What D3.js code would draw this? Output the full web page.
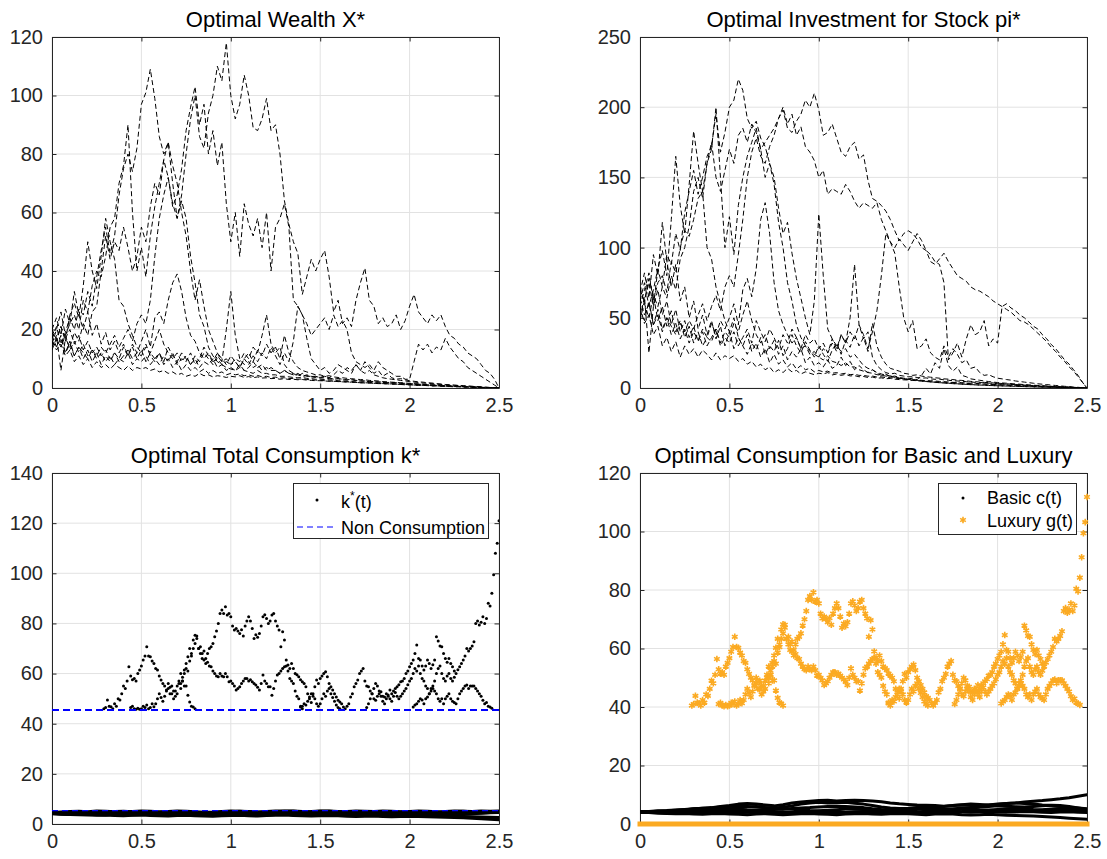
<!DOCTYPE html>
<html><head><meta charset="utf-8">
<script src="https://cdn.jsdelivr.net/npm/d3@7"></script>
<style>
body{margin:0;background:#fff}
svg{display:block}
</style>
</head><body>
<svg id="chart" width="1107" height="859"></svg>
<script>
// ---------------- DATA ----------------
const T_END = 2.5;
const xTicks = [0, 0.5, 1, 1.5, 2, 2.5];
const xTickLabels = ["0", "0.5", "1", "1.5", "2", "2.5"];
const wealthTicks = [0, 20, 40, 60, 80, 100, 120];
const investTicks = [0, 50, 100, 150, 200, 250];
const totalTicks = [0, 20, 40, 60, 80, 100, 120, 140];
const splitTicks = [0, 20, 40, 60, 80, 100, 120];
const titles = ["Optimal Wealth X*", "Optimal Investment for Stock pi*", "Optimal Total Consumption k*", "Optimal Consumption for Basic and Luxury"];

// Wealth paths X*(t), equally spaced on [0, 2.5]
const wealth1 = [17,21,15,19,24,20,27,25,33,28, 38,47,55,46,52,66,75,80,74,82, 97,101,109,99,86,80,84,76,70,60, 52,40,30,37,28,20,16,12,9,20, 33,18,10,8,9,7,8,6,7,6, 6,5,6,5,5,4,5,4,4,4, 3.5,4,3.5,3,3.2,3,2.8,3,2.6,2.5, 2.4,2.3,2.2,2.1,2,1.9,1.9,1.8,1.7,1.6, 1.5,1.4,1.3,1.2,1.1,1,0.9,0.9,0.8,0.7, 0.6,0.5,0.5,0.4,0.3,0.3,0.2,0.1,0.1,0.05,0];
const wealth2 = [16,14,18,12,15,11,14,12,10,13, 11,14,12,15,18,14,17,20,16,22, 25,22,30,45,58,66,72,63,58,66, 80,92,100,86,82,94,100,110,105,118, 100,92,97,107,100,89,88,92,99,88, 90,80,64,56,50,46,32,38,44,40, 44,47,38,26,30,22,24,21,30,36, 41,30,28,22,24,21,22,25,20,23, 28,32,26,24,22,25,23,25,21,18, 17,15,14,12,11,10,8,6,5,3,0];
const wealth3 = [19,16,21,17,14,19,16,22,18,26, 28,40,52,44,50,47,55,48,40,45, 55,50,62,70,66,78,72,62,66,75, 88,96,103,90,97,80,88,76,84,63, 50,60,45,63,56,52,58,48,60,40, 55,58,63,55,30,28,25,22,18,20, 22,24,20,25,21,23,20,12,9,8, 7,8,6,9,7,6,5,4,4,3, 3,9,15,13,15,12,14,13,17,14, 12,10,9,7,6,5,4,3,2,1,0];
const wealth4 = [15,20,26,18,22,25,20,30,26,35, 40,38,45,55,58,70,76,90,60,40, 48,38,52,62,70,78,84,70,58,64, 58,45,36,25,21,14,11,9,8,7, 6.5,6,7,6,5.5,5,6,5,5,4.5, 4.5,4,4,3.8,3.6,3.5,3.6,3.3,3.2,3, 3,2.9,2.8,2.6,2.5,2.4,2.3,2.2,2.1,2, 2,1.9,1.8,1.7,1.6,1.6,1.5,1.4,1.3,1.3, 1.2,1.1,1,1,0.9,0.8,0.8,0.7,0.6,0.6, 0.5,0.5,0.4,0.4,0.3,0.3,0.2,0.2,0.1,0.05,0];
const wealth5 = [18,14,17,12,16,11,14,10,13,9, 12,8,11,9,12,10,14,11,15,12, 16,20,14,24,26,22,30,36,39,33, 24,18,16,12,10,12,9,10,8,9, 8,10,9,12,10,14,12,18,25,15, 12,14,8,6,5,4.5,4,4.2,3.8,3.6, 3.4,3.5,3.2,3,3.2,2.8,2.7,2.8,2.5,2.4, 2.3,2.2,2.1,2,1.9,1.8,1.8,1.7,1.6,1.5, 1.4,1.3,1.2,1.2,1.1,1,0.9,0.9,0.8,0.7, 0.6,0.6,0.5,0.4,0.4,0.3,0.2,0.2,0.1,0.05,0];
const wealth6 = [20,17,14,18,13,16,12,15,11,13, 10,12,9,11,8,10,9,12,8,10, 9,11,8,10,12,9,14,11,9,12, 10,8,11,9,12,10,8,11,9,10, 8,9,7,10,8,11,9,12,10,14, 11,8,12,9,16,28,25,17,10,8, 6,7,5,6,8,7,6,5,8,6, 9,7,5,6,4,5,3.5,3,3.2,2.8, 2.5,2.3,2.1,2,1.8,1.7,1.5,1.4,1.2,1.1, 1,0.9,0.8,0.7,0.6,0.5,0.4,0.3,0.2,0.1,0];
const wealth7 = [14,18,6,17,20,15,18,13,16,12, 14,11,13,10,12,9,11,13,10,12, 11,14,12,16,20,15,12,10,12,9, 11,8,10,7,9,8,10,7,8,6, 7,6,8,6,7,9,7,8,6,7, 6,5,6,5,4.5,5,4,4.5,4,3.8, 3.6,4,3.5,4.5,6,5,7,6,8,6, 5,6,4.5,4,3.5,3.2,3,2.8,2.6,2.4, 2.2,2,1.9,1.7,1.6,1.5,1.3,1.2,1.1,1, 0.9,0.8,0.7,0.6,0.5,0.4,0.3,0.2,0.15,0.05,0];
const wealth8 = [16,13,15,11,13,9,11,8,10,7, 9,7,8,6.5,8,7,6,7.5,6,7, 6.5,7,6,6.5,5.5,6,5,5.5,4.5,5, 4,4.5,4,5,4.2,4.5,3.8,4.2,4,3.6, 4,3.8,4.2,3.6,3.9,3.5,3.8,3.4,3.5,3.2, 3.3,3,3.2,2.9,3,2.8,2.9,2.7,2.6,2.5, 2.5,2.4,2.3,2.3,2.2,2.1,2,2,1.9,1.8, 1.8,1.7,1.6,1.6,1.5,1.4,1.4,1.3,1.2,1.2, 1.1,1,1,0.9,0.9,0.8,0.7,0.7,0.6,0.6, 0.5,0.5,0.4,0.4,0.3,0.3,0.2,0.2,0.1,0.05,0];
const wealth9 = [20,24,18,27,22,33,25,20,26,18, 22,15,19,13,16,12,15,11,14,10, 13,9,12,10,8,11,9,12,8,10, 9,12,8,10,14,11,9,12,10,8, 11,9,7,10,12,9,13,11,15,12, 14,10,18,12,9,7,6,5.5,5,4.5, 4.5,4,4.2,3.8,3.6,3.5,3.3,3.2,3,2.9, 2.8,2.6,2.5,2.4,2.2,2.1,2,1.9,1.8,1.7, 1.6,1.5,1.4,1.3,1.2,1.1,1,0.9,0.8,0.7, 0.6,0.55,0.5,0.4,0.35,0.3,0.2,0.15,0.1,0.05,0];
const wealth10 = [13,17,21,16,25,29,24,35,50,40, 34,45,58,50,44,30,28,22,18,14, 12,15,11,9,12,8,10,7,9,6, 8,6,7,5.5,6.5,5,6,5,5.5,4.5, 5,4.5,4.8,4.2,4.5,4,4.3,3.8,4,3.6, 3.7,3.4,3.5,3.2,3.3,3,3.1,2.9,2.8,2.7, 2.6,2.5,2.4,2.3,2.2,2.2,2.1,2,1.9,1.8, 1.7,1.7,1.6,1.5,1.5,1.4,1.3,1.3,1.2,1.1, 1.1,1,0.9,0.9,0.8,0.7,0.7,0.6,0.5,0.5, 0.4,0.4,0.3,0.3,0.25,0.2,0.15,0.1,0.08,0.04,0];

// Investment paths pi*(t)
const invest1 = [62,75,58,70,85,72,95,88,110,98, 125,140,155,138,150,165,172,195,168,182, 200,205,220,212,192,185,190,178,172,160, 150,128,110,118,96,78,64,50,38,62, 124,80,42,35,30,26,28,22,24,20, 16,14,13,11,10,9,8.5,8,7,6.5, 6,5.5,5.2,5,4.6,4.3,4,3.8,3.5,3.3, 3.1,2.9,2.7,2.5,2.4,2.2,2.1,2,1.8,1.7, 1.6,1.5,1.4,1.3,1.2,1.1,1,0.9,0.8,0.7, 0.6,0.55,0.5,0.4,0.35,0.3,0.25,0.2,0.1,0.05,0];
const invest2 = [55,48,62,45,52,40,50,44,38,46, 40,48,42,52,60,48,58,66,55,72, 80,72,95,120,150,168,178,165,160,172, 180,192,198,185,182,190,195,205,200,210, 198,180,182,188,178,168,165,172,175,163, 166,148,135,133,130,126,120,112,105,110, 112,110,106,100,98,90,88,92,96,90, 85,80,78,76,72,70,69,67,65,62, 60,58,56,54,51,48,47,45,42,39, 36,33,29,26,22,19,15,12,8,4,0];
const invest3 = [70,62,78,66,58,72,64,80,70,92, 100,115,140,150,135,160,175,150,140,155, 170,160,180,185,175,188,182,170,175,180, 185,192,200,188,195,180,186,172,168,162, 150,155,138,142,140,138,145,140,133,128, 132,130,128,132,120,112,104,100,106,102, 98,104,110,105,98,95,90,88,75,20, 25,32,22,35,45,38,40,48,30,35, 32,58,60,57,55,52,50,47,44,42, 38,35,31,28,24,20,17,13,9,4,0];
const invest4 = [58,70,82,62,75,80,68,90,82,100, 112,108,120,135,140,160,170,200,150,100, 122,95,130,150,165,175,185,170,150,160, 145,118,100,75,62,45,36,30,26,24, 22,20,23,19,18,16,18,15,15,13, 12,11,10.5,9.5,9,8.5,8.5,7.5,7,6.5, 6.2,5.8,5.4,5,4.7,4.4,4.1,3.8,3.6,3.4, 3.2,3,2.8,2.6,2.4,2.3,2.1,2,1.8,1.7, 1.6,1.5,1.4,1.3,1.2,1.1,1,0.9,0.8,0.7, 0.6,0.5,0.45,0.4,0.35,0.3,0.2,0.15,0.1,0.05,0];
const invest5 = [64,52,60,45,56,42,50,38,46,35, 42,32,40,34,42,36,46,38,48,42, 50,60,45,70,78,65,85,120,132,110, 75,55,45,38,32,36,28,30,24,26, 22,28,25,32,26,38,32,50,88,45, 35,40,22,16,13,11,10,10.5,9,8.5, 8,8,7.5,7,7.2,6.5,6.2,6.3,5.8,5.5, 5.2,5,4.8,4.5,4.3,4,3.9,3.7,3.5,3.3, 3.1,2.9,2.7,2.6,2.4,2.2,2,1.9,1.7,1.5, 1.4,1.3,1.1,1,0.9,0.7,0.6,0.5,0.3,0.1,0];
const invest6 = [72,60,50,66,48,58,44,55,40,48, 36,44,32,40,30,36,33,42,30,36, 32,40,30,36,42,32,48,40,33,42, 36,28,38,32,42,36,28,38,32,35, 28,32,25,35,28,38,32,40,35,45, 38,28,40,55,80,110,104,96,72,50, 40,48,28,30,35,25,22,20,30,22, 28,24,18,20,14,15,11,9,9.5,8, 7,6.5,6,5.6,5,4.6,4.2,3.8,3.4,3, 2.7,2.4,2.1,1.8,1.5,1.2,1,0.7,0.5,0.2,0];
const invest7 = [50,65,25,58,70,52,62,45,56,40, 48,36,44,33,40,30,36,42,32,40, 36,46,40,52,62,48,38,32,38,28, 34,24,30,20,26,22,28,18,22,16, 18,15,20,14,16,22,16,19,13,16, 13,11,13,10.5,9,10,8,8.5,7.5,7, 6.5,7,6,9,14,10,18,14,28,16, 12,15,9,8,6.5,6,5.5,5,4.6,4.2, 3.9,3.6,3.4,3.1,2.9,2.7,2.4,2.2,2,1.8, 1.6,1.4,1.2,1.1,0.9,0.7,0.6,0.4,0.3,0.1,0];
const invest8 = [58,46,52,38,44,30,36,26,33,22, 30,24,28,22,27,24,20,25,20,23, 21,23,19,21,17,19,15,17,13,15, 11,13,11,14,11.5,12.5,10,11.5,10.5,9.5, 10.5,10,11,9.3,10,9,9.7,8.6,8.8,8, 8.2,7.5,7.8,7,7.2,6.6,6.8,6.3,6,5.8, 5.7,5.4,5.2,5.1,4.8,4.6,4.4,4.3,4.1,3.9, 3.8,3.6,3.4,3.3,3.1,2.9,2.9,2.7,2.5,2.4, 2.3,2.1,2,1.9,1.8,1.6,1.5,1.4,1.2,1.1, 1,0.9,0.8,0.7,0.6,0.5,0.4,0.3,0.2,0.1,0];
const invest9 = [68,82,64,95,80,118,90,72,88,62, 72,50,62,42,52,38,48,35,44,30, 40,28,36,30,24,32,27,36,24,30, 26,34,23,28,38,30,25,33,27,22, 30,24,19,27,32,24,34,29,38,30, 36,26,46,30,22,17,14,13,12,10.5, 10,9,9.4,8.5,8,7.7,7.3,7,6.5,6.3, 6,5.6,5.4,5.1,4.7,4.5,4.2,4,3.8,3.6, 3.4,3.2,3,2.8,2.5,2.3,2.1,1.9,1.7,1.5, 1.3,1.2,1.1,0.9,0.8,0.6,0.5,0.35,0.2,0.1,0];
const invest10 = [48,62,75,58,85,98,80,120,165,130, 110,145,183,160,140,100,92,72,60,48, 40,50,36,30,38,26,32,22,28,18, 24,17,20,15,18,13.5,16,13,14,11.5, 12.5,11.5,12,10.5,11,10,10.5,9.5,9.8,9, 9,8.4,8.5,7.8,8,7.3,7.4,7,6.7,6.4, 6.2,6,5.7,5.5,5.2,5.2,5,4.7,4.5,4.3, 4,4,3.8,3.5,3.5,3.3,3.1,3,2.8,2.6, 2.5,2.3,2.1,2,1.9,1.7,1.6,1.4,1.2,1.1, 0.9,0.85,0.7,0.6,0.5,0.4,0.3,0.2,0.15,0.08,0];

// Total consumption k*(t): high branches (above the non-consumption level), step 0.01
const kHighStep = 0.01;
const kHighStart = [0.29, 0.44, 0.72, 1.39, 1.76, 2.02];
const kHigh1 = [46,46.5,49.5,47,46.8,46,48,47,50,49.5,52,55,54,57,62.7,59,57.5,58,57,60,61.4,63,65.4,67,70.7,67,66.7,65,64,62,61.4,59,57.4,56,55,53.4,54,52,55,53,51,52,56,54,57,55,55,51.4,48.7,47,46.7,46];
const kHigh2 = [46.5,47,46,45.8,46.2,45.8,46,47,46.5,47.5, 46,46.5,48,46.8,48,50,52,50.5,49,51, 53,56,54.5,52,50,53,55,57,60,58.5, 61.4,64,66.7,70,68,73.4,75.3,74,70,70.7, 68,69,66,68,70,70.7,72,74.7,77,80, 84,85.4,84,86.7,83.4,84,82.7,79,77.4,78, 77,76,77.5,75,79,81,82.7,81,78,74, 75.5,74.5,76,79,82.7,83.5,82,80,81,83.4, 84,81,79,77.4,70.7,76.7,73.4,65.4,63.4,62, 64,62,60,59.5,58.7,57.5,56.7,56,54.7,52, 50.7,52,52,54.7,57.4,56,58,59,60,60.7, 58.7,56,54.7,53.4,52,50.7,49.4,48.7,48,46.7, 46,47,48,50.7,52,54.7,56,57.4,60,61, 62,57,55,54.7,53,52,50,49.4,51,52, 52.7,51,50.7,52,51,53.4,52,53,54,54.7, 55.5,56.7,57,58,60,61,62.7,64,65.4,68, 71.4,66,65.4,63,61.4,63,65.4,64,62,63.5, 65.4,74.7,73,71,70.7,68,66,64.5,66,64, 62.7,61,60,61.5,62.7,64,65.4,67,70,69, 70,71,72.7,80,81,79.4,80.5,82.7,80,82, 88,87,92,99.4,108,112,121];
const kHigh3 = [56,57,60,62,61,65,67,70,72,75, 70,68,66,65.4,64,64.5,63,62.7,61,60, 59,58.7,60,59,58.7,60,58.7,56.7,57,56, 55,53.4,54,54.7,56,57,58,58,57,57.5, 56.7,56,55.4,54.5,53.4,56,59.4,57,56,54.7, 54.7,51.4,54,57,59.4,60,61,62,62.7,63, 61,58,57,56,53,51,50,47,46];
const kHigh4 = [46.7,47,48,47.5,49,50,48.5,51,50,48,47,48,50,52,51,53,54,52,50.5,49,47.5,46.5,46];
const kHigh5 = [46.5,48,50,52,54,56,55,53,51,49, 48,50,51.5,50,49,51,52.5,51,50,51, 52,53,54,55.5,57,58,60,62,61,63, 60,58,57,55,54,52,54,55,57,60, 62,63,60,58,57,59,60,58,57,58.5];
const kHigh6 = [46.7,47.5,48,49,50,49.5,48,50,50.7,52, 53,54,53,52,50,49,50,48,50,51, 52,50,49,48.5,48,50,52,53,54,55, 55.4,54,55,55,55,54,53,52,51,49.4, 48,48.5,47,46.7,46.2];
// k*(t) low band (consuming below the lower level), equally spaced on [0, 2.5]
const kLow1 = [4.4,4.3,4.5,4.6,4.4,4.7,4.8,5,5.1,4.9,4.8,4.6,4.7,4.9,5,4.8,4.6,4.4,4.5,4.7,4.9,5.1,5,4.8,4.7,4.9,5.1,5.2,5,4.9,5.1,5.2,5,4.8,4.7,4.9,5,4.8,4.6,4.8,5,4.9,4.7,4.6,4.8,5,5.1,4.9,4.8,4.9,5];
const kLow2 = [4.3,4.1,4,4.2,4.1,3.9,4,4.2,4.3,4.1,4,3.8,3.9,4.1,4.2,4,3.8,3.7,3.9,4,4.1,3.9,3.8,3.7,3.9,4.1,4.3,4.2,4,3.9,4.1,4.2,4,3.8,3.7,3.6,3.8,3.9,3.7,3.6,3.5,3.7,3.8,3.6,3.5,3.7,3.9,4.1,4.3,4.5,4.6];
const kLow3 = [4.2,4,3.8,3.7,3.6,3.5,3.6,3.4,3.3,3.5,3.6,3.4,3.3,3.2,3.4,3.5,3.3,3.2,3.1,3.3,3.4,3.5,3.3,3.2,3.4,3.5,3.6,3.4,3.3,3.2,3.3,3.4,3.3,3.1,3,3.1,3.2,3,2.9,3,3.1,3,2.9,2.8,2.7,2.6,2.5,2.3,2.1,1.9,1.7];
const kLow4 = [4.5,4.6,4.4,4.3,4.5,4.4,4.2,4.3,4.5,4.6,4.4,4.3,4.2,4.4,4.5,4.3,4.2,4.1,4.3,4.4,4.5,4.4,4.2,4.3,4.5,4.6,4.5,4.3,4.2,4.4,4.5,4.6,4.4,4.3,4.1,4.2,4.3,4.1,4,4.2,4.3,4.1,4,4.1,4.2,4.3,4.4,4.5,4.4,4.6,4.8];
const kLow5 = [4.1,3.9,3.8,4,3.9,3.7,3.6,3.8,3.7,3.6,3.8,3.9,3.7,3.6,3.5,3.7,3.8,3.6,3.5,3.6,3.7,3.8,3.6,3.5,3.6,3.8,3.9,3.7,3.6,3.8,3.9,3.7,3.5,3.4,3.5,3.6,3.4,3.3,3.4,3.5,3.3,3.2,3.3,3.4,3.2,3.1,3,2.9,2.8,2.7,2.6];
const kLow6 = [4.6,4.8,5,5.1,4.9,5.2,5.1,4.9,4.8,5,5.2,5.1,4.9,5,5.2,5.1,4.9,4.7,4.8,5,5.2,5.1,4.9,4.8,5,5.2,5.2,5.1,4.9,5,5.2,5.1,4.9,5,5.2,5.1,5,5.2,5.1,4.9,5,5.2,5.1,4.9,5,5.2,5.1,5,5.2,5.1,5.2];
const nonConsumption = [45.5, 5.3];

// Basic consumption c(t), equally spaced on [0, 2.5]
const basic1 = [4.2,4.3,4.5,4.6,4.8,5,5.2,5.4,5.6,6,6.3,6.8,7,6.8,6.5,6.2,6.6,7.2,7.5,7.8,8,8.1,7.9,8,8.1,8,7.9,7.6,7.2,6.9,6.7,6.5,6.4,6.3,6.1,6.3,6.6,6.8,6.7,6.5,6.7,7,7.2,7.5,7.8,8,8.3,8.6,9,9.5,10];
const basic2 = [4.1,4.2,4.4,4.5,4.7,4.9,5.1,5.3,5.5,5.8,6,6.2,6,5.8,5.6,5.5,5.7,6.2,6.8,7.2,7.4,7.2,7.3,7.4,7.1,6.8,6.3,5.8,5.5,5.3,5.4,5.6,5.8,5.9,6,6.3,6.5,6.4,6.2,6.5,6.8,7,7.2,7,6.8,6.5,6.3,6,5.7,5.5,5.2];
const basic3 = [4,4.1,4.2,4.4,4.6,4.8,5.1,5.4,5.2,5,5.2,5.5,5.8,6,5.6,5.2,5,5.3,5.5,5.6,5.8,6,6.1,6,5.8,5.6,5.2,5,4.9,5,5.2,5.4,5.3,5.1,5,5.2,5.4,5.6,5.8,6,6.2,6.1,5.9,5.8,6,6.2,6.4,6.3,6,5.5,5];
const basic4 = [4.2,4.1,4,4.1,4.3,4.5,4.4,4.6,4.8,4.7,4.9,5,4.8,4.7,4.9,5.1,5.3,5,4.8,4.6,4.5,4.7,4.9,5.1,5.2,5,4.8,4.7,4.6,4.8,5,5.1,4.9,4.7,4.6,4.8,5,5.1,4.9,4.8,5,5.2,5.3,5.2,5,4.9,5.1,5.3,5.2,5,4.8];
const basic5 = [4.1,4,3.9,3.8,4,4.1,3.9,3.8,4,4.2,4.3,4.1,4,4.2,4.4,4.3,4.1,4,4.1,4.3,4.4,4.2,4.1,4,4.2,4.3,4.1,4,4.2,4.4,4.5,4.3,4.2,4.4,4.5,4.3,4.1,4,4.2,4.3,4.1,4,4.1,4.3,4.2,4,3.9,4.1,4.2,4,3.9];
const basic6 = [4,3.9,3.7,3.6,3.5,3.6,3.4,3.3,3.5,3.6,3.4,3.3,3.2,3.4,3.5,3.3,3.2,3.3,3.5,3.6,3.4,3.3,3.2,3.4,3.5,3.6,3.4,3.3,3.5,3.6,3.5,3.3,3.2,3.4,3.5,3.4,3.2,3.1,3.2,3.3,3.2,3,2.9,2.8,2.7,2.6,2.4,2.2,2,1.8,1.6];
const basic7 = [4.2,4.3,4.1,4.2,4.4,4.6,4.5,4.3,4.2,4.1,4,3.9,4.1,4.3,4.2,4,3.9,3.8,3.9,4.1,4,3.8,3.7,3.8,4,4.1,3.9,3.8,3.9,4.1,4.2,4,3.9,3.8,4,4.2,4.3,4.5,4.6,4.4,4.5,4.7,4.8,4.6,4.5,4.7,4.9,5,4.8,4.7,4.6];

// Luxury consumption g(t): high branches (same start times, step 0.01) and the zero level
const luxHigh1 = [40.5,41,43.8,41.5,41.3,40.5,42.4,41.5,44.3,43.8,46.2,49,48.1,51,56.4,52.9,51.4,51.9,51,53.8,55.1,56.7,58.9,60.5,64,60.5,60.2,58.6,57.6,55.7,55.1,52.9,51.3,50,49.1,47.5,48.1,46.2,49,47.2,45.3,46.2,50,48.1,51,49.1,49.1,45.6,43.1,41.5,41.2,40.5];
const luxHigh2 = [41,41.4,40.5,40.3,40.7,40.3,40.5,41.4,41,41.9, 40.5,41,42.4,41.3,42.4,44.3,46.2,44.8,43.4,45.3, 47.2,50,48.6,46.2,44.3,47.2,49,51,53.8,52.4, 55.1,57.6,60.2,63.3,61.4,66.5,68.3,67.1,63.3,64, 61.4,62.4,59.5,61.4,63.3,64,65.2,67.8,70,72.8, 76.6,77.9,76.6,79.2,76,76.6,75.4,71.9,70.3,70.9, 70,69,70.4,68.1,71.9,73.8,75.4,73.8,70.9,67.1, 68.5,67.6,69,71.9,75.4,76.1,74.7,72.8,73.8,76, 76.6,73.8,71.9,70.3,64,69.7,66.5,59,57,55.7, 57.6,55.7,53.8,53.3,52.6,51.4,50.7,50,48.8,46.2, 45,46.2,46.2,48.8,51.3,50,51.9,52.9,53.8,54.5, 52.6,50,48.8,47.5,46.2,45,43.7,43.1,42.4,41.2, 40.5,41.4,42.4,45,46.2,48.8,50,51.3,53.8,54.8, 55.7,51,49.1,48.8,47.2,46.2,44.3,43.7,45.3,46.2, 46.9,45.3,45,46.2,45.3,47.5,46.2,47.2,48.1,48.8, 49.5,50.7,51,51.9,53.8,54.8,56.4,57.6,58.9,61.4, 64.6,59.5,58.9,56.7,55.1,56.7,58.9,57.6,55.7,57.1, 58.9,67.8,66.2,64.3,64,61.4,59.5,58.1,59.5,57.6, 56.4,54.8,53.8,55.2,56.4,57.6,58.9,60.5,63.3,62.4, 63.3,64.3,65.9,72.8,73.8,72.2,73.3,75.4,72.8,74.7, 80.4,79.5,84.2,91.2,99.4,103.2,111.8];
const luxHigh3 = [50,51,53.8,55.7,54.8,58.6,60.5,63.3,65.2,68.1, 63.3,61.4,59.5,58.9,57.6,58.1,56.7,56.4,54.8,53.8, 52.9,52.6,53.8,52.9,52.6,53.8,52.6,50.7,51,50, 49.1,47.5,48.1,48.8,50,51,51.9,51.9,51,51.4, 50.7,50,49.4,48.6,47.5,50,53.2,51,50,48.8, 48.8,45.6,48.1,51,53.2,53.8,54.8,55.7,56.4,56.7, 54.8,51.9,51,50,47.2,45.3,44.3,41.5,40.5];
const luxHigh4 = [41.2,41.5,42.4,41.9,43.4,44.3,42.9,45.3,44.3,42.4,41.5,42.4,44.3,46.2,45.3,47.2,48.1,46.2,44.8,43.4,41.9,41,40.5];
const luxHigh5 = [41,42.4,44.3,46.2,48.1,50,49.1,47.2,45.3,43.4, 42.4,44.3,45.7,44.3,43.4,45.3,46.7,45.3,44.3,45.3, 46.2,47.2,48.1,49.5,51,51.9,53.8,55.7,54.8,56.7, 53.8,51.9,51,49.1,48.1,46.2,48.1,49.1,51,53.8, 55.7,56.7,53.8,51.9,51,52.9,53.8,51.9,51,52.4];
const luxHigh6 = [41.2,41.9,42.4,43.4,44.3,43.8,42.4,44.3,45,46.2, 47.2,48.1,47.2,46.2,44.3,43.4,44.3,42.4,44.3,45.3, 46.2,44.3,43.4,42.9,42.4,44.3,46.2,47.2,48.1,49.1, 49.4,48.1,49.1,49.1,49.1,48.1,47.2,46.2,45.3,43.7, 42.4,42.9,41.5,41.2,40.7];
const luxZeroTimes = [0, 2.5];
const luxZeroValues = [0, 0];

const legendTotal = ["k*(t)", "Non Consumption"];
const legendSplit = ["Basic c(t)", "Luxury g(t)"];

// ---------------- DRAWING ----------------
const FONT = '"Liberation Sans", Arial, Helvetica, sans-serif';
const AX = "#262626";
const ORANGE = "#FBAA22";
const svg = d3.select("#chart");
const defs = svg.append("defs");

const panelBoxes = [
  {left: 52, right: 499, top: 37, bottom: 388, yMax: 120, ticks: wealthTicks},
  {left: 640, right: 1087, top: 37, bottom: 388, yMax: 250, ticks: investTicks},
  {left: 52, right: 499, top: 473, bottom: 824, yMax: 140, ticks: totalTicks},
  {left: 640, right: 1087, top: 473, bottom: 824, yMax: 120, ticks: splitTicks}
];

function panel(idx) {
  const p = panelBoxes[idx];
  const x = d3.scaleLinear().domain([0, T_END]).range([p.left, p.right]);
  const y = d3.scaleLinear().domain([0, p.yMax]).range([p.bottom, p.top]);
  const g = svg.append("g");
  g.append("g").selectAll("line").data(xTicks).join("line")
    .attr("x1", d => x(d)).attr("x2", d => x(d)).attr("y1", p.top).attr("y2", p.bottom)
    .attr("stroke", "#e2e2e2").attr("stroke-width", 1);
  g.append("g").selectAll("line").data(p.ticks).join("line")
    .attr("y1", d => y(d)).attr("y2", d => y(d)).attr("x1", p.left).attr("x2", p.right)
    .attr("stroke", "#e2e2e2").attr("stroke-width", 1);
  const style = s => s.attr("font-size", 20).attr("font-family", FONT).attr("color", AX)
    .call(t => t.selectAll("text").attr("fill", AX));
  g.append("g").attr("transform", `translate(0,${p.bottom})`)
    .call(d3.axisBottom(x).tickValues(xTicks).tickFormat((d, i) => xTickLabels[i]).tickSizeInner(-4.5).tickSizeOuter(0).tickPadding(10)).call(style);
  g.append("g").attr("transform", `translate(0,${p.top})`)
    .call(d3.axisTop(x).tickValues(xTicks).tickFormat("").tickSizeInner(-4.5).tickSizeOuter(0)).call(style);
  g.append("g").attr("transform", `translate(${p.left},0)`)
    .call(d3.axisLeft(y).tickValues(p.ticks).tickFormat(d3.format("d")).tickSizeInner(-4.5).tickSizeOuter(0).tickPadding(9)).call(style);
  g.append("g").attr("transform", `translate(${p.right},0)`)
    .call(d3.axisRight(y).tickValues(p.ticks).tickFormat("").tickSizeInner(-4.5).tickSizeOuter(0)).call(style);
  svg.append("text").attr("x", (p.left + p.right) / 2).attr("y", p.top - 10)
    .attr("text-anchor", "middle").attr("font-family", FONT).attr("font-size", 22).attr("fill", "#000")
    .text(titles[idx]);
  const clipId = "clip" + idx;
  defs.append("clipPath").attr("id", clipId).append("rect")
    .attr("x", p.left).attr("y", p.top).attr("width", p.right - p.left).attr("height", p.bottom - p.top);
  const data = svg.append("g").attr("clip-path", `url(#${clipId})`);
  return {x, y, g, data, p};
}

function evenLine(x, y, arr) {
  const ts = d3.scaleLinear().domain([0, arr.length - 1]).range([0, T_END]);
  return d3.line().x((d, i) => x(ts(i))).y(d => y(d))(arr);
}

// Panel 1: wealth
{
  const {x, y, data} = panel(0);
  data.selectAll("path").data([wealth1, wealth2, wealth3, wealth4, wealth5, wealth6, wealth7, wealth8, wealth9, wealth10]).join("path")
    .attr("d", d => evenLine(x, y, d)).attr("fill", "none").attr("stroke", "#000")
    .attr("stroke-width", 1).attr("stroke-dasharray", "5,3");
}
// Panel 2: investment
{
  const {x, y, data} = panel(1);
  data.selectAll("path").data([invest1, invest2, invest3, invest4, invest5, invest6, invest7, invest8, invest9, invest10]).join("path")
    .attr("d", d => evenLine(x, y, d)).attr("fill", "none").attr("stroke", "#000")
    .attr("stroke-width", 1).attr("stroke-dasharray", "5,3");
}
// Panel 3: total consumption
{
  const {x, y, data, p} = panel(2);
  data.selectAll("path.low").data([kLow1, kLow2, kLow3, kLow4, kLow5, kLow6]).join("path").attr("class", "low")
    .attr("d", d => evenLine(x, y, d)).attr("fill", "none").attr("stroke", "#000")
    .attr("stroke-width", 3).attr("stroke-linejoin", "round").attr("stroke-linecap", "round");
  const kBranches = [kHigh1, kHigh2, kHigh3, kHigh4, kHigh5, kHigh6];
  kBranches.forEach((arr, j) => {
    data.append("g").selectAll("circle").data(arr).join("circle")
      .attr("cx", (d, i) => x(kHighStart[j] + i * kHighStep)).attr("cy", d => y(d))
      .attr("r", 1.5).attr("fill", "#000");
  });
  data.selectAll("line.nc").data(nonConsumption).join("line").attr("class", "nc")
    .attr("x1", x(0)).attr("x2", x(T_END)).attr("y1", d => y(d)).attr("y2", d => y(d))
    .attr("stroke", "#0000ff").attr("stroke-width", (d, i) => i === 0 ? 2 : 1.2)
    .attr("stroke-dasharray", (d, i) => i === 0 ? "7,4" : "6,4");
  const lg = svg.append("g");
  lg.append("rect").attr("x", 293.5).attr("y", 483.5).attr("width", 195).attr("height", 55)
    .attr("fill", "#fff").attr("stroke", AX).attr("stroke-width", 1);
  lg.append("circle").attr("cx", 317).attr("cy", 500).attr("r", 1.5).attr("fill", "#000");
  const t1 = lg.append("text").attr("x", 341).attr("y", 508).attr("font-family", FONT).attr("font-size", 18).attr("fill", "#000");
  t1.append("tspan").text("k");
  t1.append("tspan").attr("dy", -8).attr("font-size", 12).text("*");
  t1.append("tspan").attr("dy", 8).text("(t)");
  lg.append("line").attr("x1", 297).attr("x2", 337).attr("y1", 527).attr("y2", 527)
    .attr("stroke", "#0000ff").attr("stroke-width", 1).attr("stroke-dasharray", "6,4");
  lg.append("text").attr("x", 341).attr("y", 534).attr("font-family", FONT).attr("font-size", 18).attr("fill", "#000")
    .text(legendTotal[1]);
}
// Panel 4: basic and luxury
{
  const {x, y, data, p} = panel(3);
  data.selectAll("path.basic").data([basic1, basic2, basic3, basic4, basic5, basic6, basic7]).join("path").attr("class", "basic")
    .attr("d", d => evenLine(x, y, d)).attr("fill", "none").attr("stroke", "#000")
    .attr("stroke-width", 3).attr("stroke-linejoin", "round").attr("stroke-linecap", "round");
  const ast = d3.symbol(d3.symbolAsterisk, 30);
  const luxBranches = [luxHigh1, luxHigh2, luxHigh3, luxHigh4, luxHigh5, luxHigh6];
  const top = svg.append("g");
  luxBranches.forEach((arr, j) => {
    top.append("g").selectAll("path").data(arr).join("path")
      .attr("transform", (d, i) => `translate(${x(kHighStart[j] + i * kHighStep)},${y(d)})`)
      .attr("d", ast).attr("fill", "none").attr("stroke", ORANGE).attr("stroke-width", 1.6);
  });
  top.append("path").datum(luxZeroValues)
    .attr("d", d3.line().x((d, i) => x(luxZeroTimes[i])).y(d => y(d)))
    .attr("stroke", ORANGE).attr("stroke-width", 5).attr("stroke-linecap", "square").attr("fill", "none");
  const lg = svg.append("g");
  lg.append("rect").attr("x", 938.5).attr("y", 483.5).attr("width", 138).attr("height", 51)
    .attr("fill", "#fff").attr("stroke", AX).attr("stroke-width", 1);
  lg.append("circle").attr("cx", 963).attr("cy", 498).attr("r", 1.5).attr("fill", "#000");
  lg.append("path").attr("transform", "translate(963,520)").attr("d", ast)
    .attr("fill", "none").attr("stroke", ORANGE).attr("stroke-width", 1.6);
  lg.selectAll("text").data(legendSplit).join("text")
    .attr("x", 987).attr("y", (d, i) => i === 0 ? 504 : 527)
    .attr("font-family", FONT).attr("font-size", 18).attr("fill", "#000").text(d => d);
}
</script>
</body></html>
